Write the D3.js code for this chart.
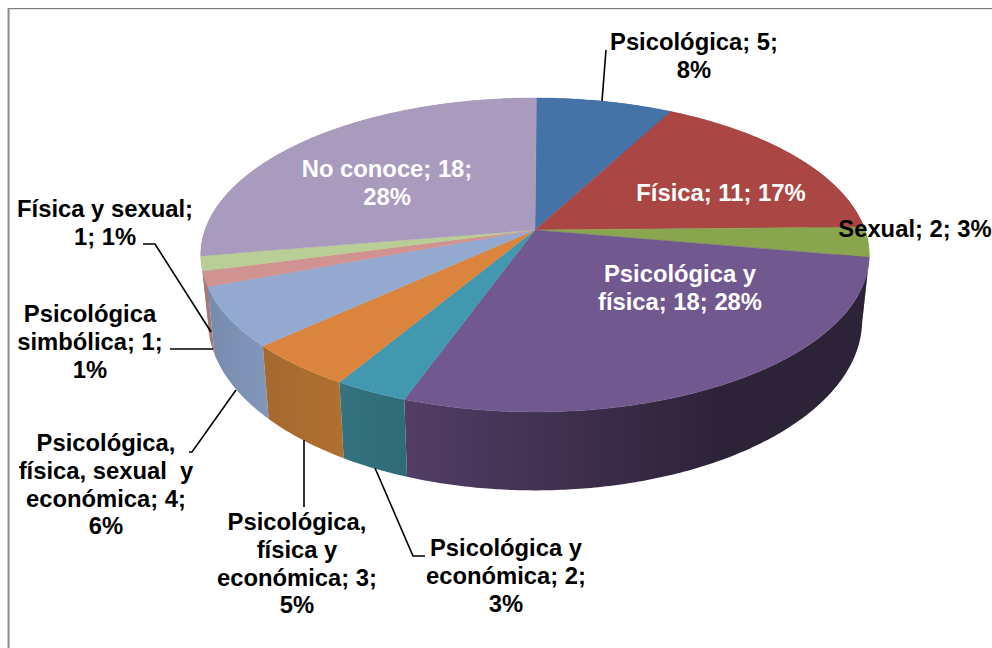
<!DOCTYPE html>
<html><head><meta charset="utf-8">
<script src="https://cdn.jsdelivr.net/npm/d3@7"></script>
<style>html,body{margin:0;padding:0;background:#fff;overflow:hidden}svg{display:block}</style>
</head><body><svg id="c" width="992" height="648"></svg>
<script>
const categories=["Psicológica","Física","Sexual","Psicológica y física","Psicológica y económica","Psicológica, física y económica","Psicológica, física, sexual y económica","Psicológica simbólica","Física y sexual","No conoce"];
const values=[5,11,2,18,2,3,4,1,1,18];
const topColors=["#4572A7","#AA4643","#89A54E","#71588F","#4198AF","#DB843D","#93A9CF","#D19392","#B9CD96","#A99BBD"];
const wallStart=["#3a5f8c","#8e3a38","#6f853f","#533d66","#34737f","#b1702f","#8397bb","#a87877","#96a67a","#8a7e9a"];
const wallEnd=["#3a5f8c","#8e3a38","#6f853f","#2c2338","#2f6b78","#a5682f","#778bae","#a87877","#96a67a","#8a7e9a"];
const labelLines=[["Psicológica; 5;","8%"],["Física; 11; 17%"],["Sexual; 2; 3%"],["Psicológica y","física; 18; 28%"],["Psicológica y","económica; 2;","3%"],["Psicológica,","física y","económica; 3;","5%"],["Psicológica,","física, sexual  y","económica; 4;","6%"],["Psicológica","simbólica; 1;","1%"],["Física y sexual;","1; 1%"],["No conoce; 18;","28%"]];
const labelColors=["#000","#fff","#000","#fff","#000","#000","#000","#000","#000","#fff"];
const labelX=[694,721,915,680,506,297,106,90,105,387];
const labelY=[50,201,237,282,556,530,451,322,217,177];
const leaders=[[[606,50],[602,101]],[[375,468],[413,556],[425,556]],[[304,440],[304,507]],[[236,390],[192,452],[189,452]],[[170,349],[213,349]],[[143,244],[155,244],[211,332]]];

const svg=d3.select("#c");
const defs=svg.append("defs");

// Perspective projection of the pie's unit disc (top and bottom faces)
const P=0.159;
const topFace={cx:535,cy:230,a:330,b:153};
const botFace={cx:535,cy:293,a:323,b:166};
const project=(f,t,r=1)=>{const u=Math.sin(t)*r,v=Math.cos(t)*r,d=1+P*v;return [f.cx+f.a*u/d,f.cy-f.b*v/d];};
const arcAngles=(a0,a1)=>{const n=Math.max(2,Math.ceil((a1-a0)/0.01));return d3.range(n+1).map(i=>a0+(a1-a0)*i/n);};
const line=d3.line();

const rot=0.3*Math.PI/180;
const arcs=d3.pie().sort(null).startAngle(rot).endAngle(2*Math.PI+rot)(values);

// walls, back to front
const g=svg.append("g");
const wallOrder=arcs.slice().sort((p,q)=>Math.cos((q.startAngle+q.endAngle)/2)-Math.cos((p.startAngle+p.endAngle)/2));
wallOrder.forEach(d=>{
  const i=d.index,as=arcAngles(d.startAngle,d.endAngle);
  const pts=as.map(t=>project(topFace,t)).concat(as.slice().reverse().map(t=>project(botFace,t)));
  const ex=d3.extent(pts,p=>p[0]);
  const id="w"+i;
  const lg=defs.append("linearGradient").attr("id",id).attr("gradientUnits","userSpaceOnUse")
    .attr("x1",ex[0]).attr("x2",ex[1]).attr("y1",0).attr("y2",0);
  const rev=i>=5;
  if(i===3){
    lg.append("stop").attr("offset",0).attr("stop-color",wallStart[i]);
    lg.append("stop").attr("offset",0.68).attr("stop-color",wallEnd[i]);
    lg.append("stop").attr("offset",1).attr("stop-color",wallEnd[i]);
  }else{
    lg.append("stop").attr("offset",0).attr("stop-color",rev?wallEnd[i]:wallStart[i]);
    lg.append("stop").attr("offset",1).attr("stop-color",rev?wallStart[i]:wallEnd[i]);
  }
  g.append("path").attr("d",line(pts)+"Z").attr("fill",`url(#${id})`);
});
// top faces
arcs.forEach(d=>{
  const pts=[project(topFace,0,0)].concat(arcAngles(d.startAngle,d.endAngle).map(t=>project(topFace,t)));
  g.append("path").attr("d",line(pts)+"Z").attr("fill",topColors[d.index]).attr("stroke",topColors[d.index]).attr("stroke-width",0.4);
});

// frame
svg.append("path").attr("d","M9.5,648V9.5H992").attr("fill","none").attr("stroke","#e2e2e2").attr("stroke-width",1);
svg.append("path").attr("d","M8.5,648V8").attr("fill","none").attr("stroke","#8f8f8f").attr("stroke-width",2);
svg.append("path").attr("d","M8,8.5H992").attr("fill","none").attr("stroke","#808080").attr("stroke-width",1);

// leader lines
leaders.forEach(l=>svg.append("path").attr("d",line(l)).attr("fill","none").attr("stroke","#000").attr("stroke-width",1.6));

// labels
labelLines.forEach((ls,i)=>{
  const t=svg.append("text").attr("text-anchor","middle").attr("font-family","'Liberation Sans',Arial,sans-serif")
    .attr("font-weight","bold").attr("font-size",23.8).attr("fill",labelColors[i]).attr("xml:space","preserve").style("white-space","pre");
  ls.forEach((s,j)=>t.append("tspan").attr("x",labelX[i]).attr("y",labelY[i]+j*27.8).text(s));
});
</script></body></html>
